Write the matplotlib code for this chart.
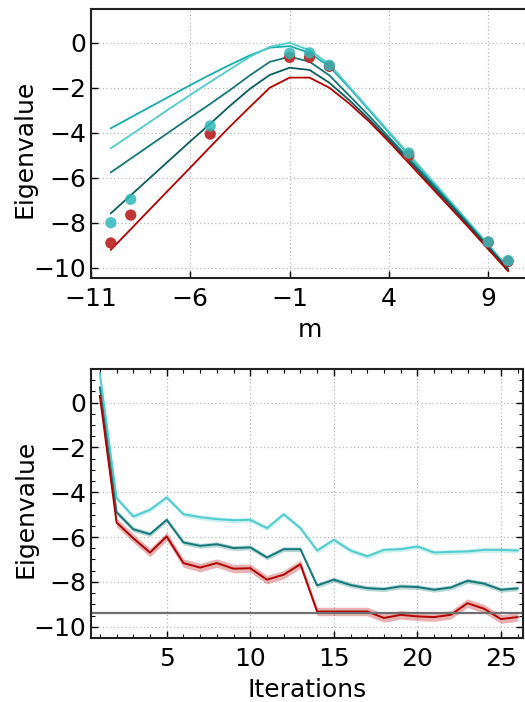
import numpy as np
import matplotlib
matplotlib.use("Agg")
import matplotlib.pyplot as plt
from matplotlib.ticker import MultipleLocator, FixedLocator

# ---------------- data: top panel ----------------
m_vals = list(range(-10, 11))
line_red = [-9.2, -8.29, -7.37, -6.46, -5.55, -4.63, -3.72, -2.85, -2.0, -1.55, -1.55,
            -2.0, -2.7, -3.5, -4.4, -5.35, -6.3, -7.25, -8.2, -9.18, -10.15]
line_darkteal = [-7.58, -6.78, -5.98, -5.18, -4.38, -3.6, -2.8, -2.05, -1.43, -1.11, -1.21,
                 -1.78, -2.55, -3.4, -4.3, -5.25, -6.2, -7.15, -8.12, -9.1, -10.1]
line_teal = [-5.76, -5.15, -4.54, -3.93, -3.32, -2.72, -2.1, -1.45, -0.85, -0.62, -0.84,
             -1.45, -2.35, -3.25, -4.2, -5.15, -6.1, -7.07, -8.05, -9.05, -10.05]
line_lightcyan = [-4.69, -4.1, -3.5, -2.9, -2.32, -1.74, -1.18, -0.62, -0.18, 0.0, -0.33,
                  -0.95, -1.95, -2.95, -3.95, -4.95, -5.95, -6.95, -7.95, -8.97, -10.0]
line_cyan = [-3.8, -3.32, -2.84, -2.36, -1.88, -1.42, -0.98, -0.56, -0.22, -0.15, -0.45,
             -1.05, -2.0, -3.0, -4.0, -5.0, -6.0, -7.0, -8.0, -9.0, -10.0]

pts_m = [-10, -9, -5, -1, 0, 1, 5, 9, 10]
pts_red = [-8.9, -7.66, -4.06, -0.65, -0.65, -1.05, -5.0, -8.87, -9.72]
pts_cyan = [-8.0, -6.96, -3.70, -0.47, -0.45, -1.0, -4.9, -8.85, -9.68]

top_xticks = [-11, -6, -1, 4, 9]
top_yticks = [0, -2, -4, -6, -8, -10]

# ---------------- data: bottom panel ----------------
iters = list(range(1, 27))
it_cyan = [1.3, -4.26, -5.08, -4.78, -4.23, -4.98, -5.11, -5.2, -5.25, -5.23, -5.6, -4.98, -5.6,
           -6.6, -6.12, -6.6, -6.86, -6.57, -6.54, -6.42, -6.69, -6.66, -6.64, -6.57, -6.57, -6.6]
it_teal = [0.68, -4.89, -5.65, -5.87, -5.23, -6.24, -6.39, -6.32, -6.49, -6.46, -6.91, -6.54, -6.54,
           -8.16, -7.9, -8.14, -8.28, -8.32, -8.2, -8.23, -8.35, -8.25, -7.95, -8.08, -8.35, -8.29]
it_red = [0.3, -5.35, -6.05, -6.69, -5.97, -7.16, -7.36, -7.16, -7.41, -7.39, -7.9, -7.68, -7.21,
          -9.32, -9.32, -9.32, -9.32, -9.61, -9.47, -9.54, -9.57, -9.47, -8.95, -9.2, -9.66, -9.57]
band_cyan = 0.11
band_teal = 0.11
band_red = 0.19
ref_level = -9.38

bot_xticks = [5, 10, 15, 20, 25]
bot_yticks = [0, -2, -4, -6, -8, -10]

# ---------------- style ----------------
C_RED = "#b30000"
C_DARKTEAL = "#0c5c5c"
C_TEAL = "#127878"
C_LIGHTCYAN = "#4fcccc"
C_CYAN = "#16adad"
C_PT_RED = "#bf2a2a"
C_PT_CYAN = "#30b9b9"

plt.rcParams["font.family"] = ["DejaVu Sans"]
plt.rcParams["font.size"] = 18

W, H = 525, 702
fig = plt.figure(figsize=(W / 100, H / 100), dpi=100)

ax1 = fig.add_axes([91 / W, 1 - 278.3 / H, 437 / W, (278.3 - 9) / H])
ax2 = fig.add_axes([91 / W, 1 - 637.7 / H, 432 / W, (637.7 - 369) / H])

grid_kw = dict(color="#b8b8b8", linestyle=(0, (1, 2)), linewidth=0.9)

# top panel
ax1.plot(m_vals, line_cyan, color=C_CYAN, lw=1.3)
ax1.plot(m_vals, line_lightcyan, color=C_LIGHTCYAN, lw=1.3)
ax1.plot(m_vals, line_teal, color=C_TEAL, lw=1.3)
ax1.plot(m_vals, line_darkteal, color=C_DARKTEAL, lw=1.3)
ax1.plot(m_vals, line_red, color=C_RED, lw=1.3)
ax1.scatter(pts_m, pts_red, s=66, color=C_PT_RED, alpha=0.95, edgecolors="none", zorder=3)
ax1.scatter(pts_m, pts_cyan, s=66, color=C_PT_CYAN, alpha=0.85, edgecolors="none", zorder=4)
ax1.set_xlim(-11, 11)
ax1.set_ylim(-10.47, 1.5)
ax1.xaxis.set_major_locator(FixedLocator(top_xticks))
ax1.yaxis.set_major_locator(FixedLocator(top_yticks))
ax1.grid(True, **grid_kw)
ax1.set_axisbelow(True)
ax1.set_xlabel("m", labelpad=5)
ax1.set_ylabel("Eigenvalue")
ax1.tick_params(direction="in", length=5, width=1, top=False, right=False)
ax1.tick_params(axis="x", pad=6.5)
ax1.tick_params(axis="y", pad=3.5)

# bottom panel
for vals, band, col in [(it_cyan, band_cyan, C_LIGHTCYAN), (it_teal, band_teal, C_TEAL),
                        (it_red, band_red, C_RED)]:
    v = np.array(vals)
    ax2.fill_between(iters, v - band, v + band, color=col, alpha=0.3, linewidth=0)
    ax2.plot(iters, v, color=col, lw=1.4)
ax2.axhline(ref_level, color="#707070", lw=1.6)
ax2.set_xlim(0.47, 26.32)
ax2.set_ylim(-10.49, 1.5)
ax2.xaxis.set_major_locator(FixedLocator(bot_xticks))
ax2.yaxis.set_major_locator(FixedLocator(bot_yticks))
ax2.xaxis.set_minor_locator(MultipleLocator(1))
ax2.yaxis.set_minor_locator(MultipleLocator(0.5))
ax2.grid(True, **grid_kw)
ax2.set_axisbelow(True)
ax2.set_xlabel("Iterations", labelpad=5)
ax2.set_ylabel("Eigenvalue")
ax2.tick_params(which="major", direction="in", length=5, width=1, top=True, right=True)
ax2.tick_params(which="minor", direction="in", length=3, width=0.8, top=True, right=True)
ax2.tick_params(axis="x", which="major", pad=6.5)
ax2.tick_params(axis="y", which="major", pad=3.5)

for ax in (ax1, ax2):
    for sp in ax.spines.values():
        sp.set_linewidth(1.5)
        sp.set_color("#222222")
ax1.yaxis.set_label_coords(-0.124, 0.48)
ax2.yaxis.set_label_coords(-0.125, 0.48)

fig.savefig("out.png", dpi=100)
